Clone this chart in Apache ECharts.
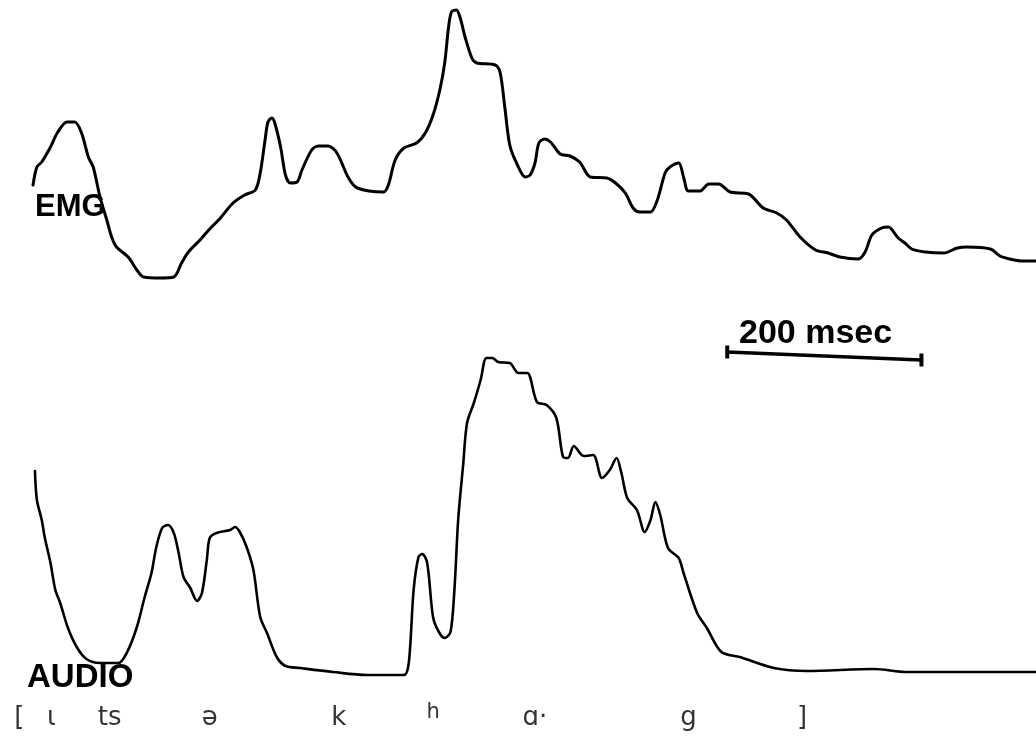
<!DOCTYPE html>
<html>
<head>
<meta charset="utf-8">
<style>
  html, body { margin: 0; padding: 0; background: #ffffff; }
  #chart { width: 1036px; height: 736px; }
</style>
<script src="https://cdn.jsdelivr.net/npm/echarts@6/dist/echarts.min.js"></script>
</head>
<body>
<div id="chart"></div>
<script>
// Time axis in milliseconds; amplitudes in arbitrary units.
// EMG envelope: [time ms, amplitude]
const emgTrace = [
  [3,105],[7,123],[12,128],[21,143],[28,157],[38,168],[46,168],[53,157],[60,133],[65,123],
  [72,93],[79,70],[84,53],[89,43],[101,33],[110,20],[117,13],[134,12],[148,13],[156,27],
  [163,38],[175,50],[184,60],[196,72],[209,87],[221,95],[232,100],[237,117],[242,150],[245,168],
  [249,172],[252,167],[258,143],[263,115],[268,107],[275,108],[280,120],[290,140],[297,144],[307,144],
  [316,137],[328,112],[337,102],[364,98],[369,105],[376,130],[385,142],[398,147],[407,157],[415,175],
  [422,200],[427,227],[431,263],[434,278],[439,280],[443,272],[448,253],[455,232],[460,227],[479,225],
  [484,218],[489,182],[494,145],[501,127],[510,113],[515,115],[520,127],[524,147],[530,151],[536,148],
  [546,136],[556,134],[566,128],[577,113],[594,112],[603,107],[613,97],[621,82],[628,78],[639,78],
  [646,90],[654,117],[659,123],[668,127],[673,113],[678,99],[690,99],[699,106],[709,106],[721,98],
  [740,96],[755,82],[769,77],[779,70],[793,53],[809,40],[822,37],[834,33],[853,31],[860,38],
  [867,55],[877,62],[884,63],[894,52],[901,47],[908,41],[922,38],[941,37],[955,42],[965,43],
  [989,41],[999,34],[1009,31],[1021,29],[1036,29]
];

// Acoustic amplitude envelope: [time ms, amplitude]
const audioTrace = [
  [5,209],[7,180],[12,160],[15,143],[21,117],[26,90],[31,77],[39,52],[48,33],[58,21],
  [72,17],[91,17],[100,28],[110,53],[118,83],[125,107],[130,133],[136,152],[142,155],[148,147],
  [153,127],[158,103],[165,92],[172,79],[177,87],[182,120],[185,142],[192,147],[206,150],[211,153],
  [216,148],[223,133],[230,110],[237,63],[244,47],[254,23],[263,14],[278,12],[312,8],[347,5],
  [385,5],[390,17],[395,90],[400,123],[404,126],[409,117],[415,63],[421,48],[427,42],[433,48],
  [437,90],[441,162],[446,215],[450,257],[457,277],[464,300],[470,322],[476,322],[482,318],[494,317],
  [503,307],[512,307],[522,278],[532,275],[542,262],[549,223],[554,222],[560,234],[570,224],[580,225],
  [589,202],[597,210],[604,222],[609,207],[615,182],[625,170],[633,148],[639,160],[644,178],[649,165],
  [657,132],[668,122],[673,107],[687,67],[697,52],[712,28],[731,23],[766,12],[800,9],[869,11],
  [903,8],[961,8],[1036,8]
];

// Phonetic transcription aligned to the time axis
const phoneLabels = ['[', 'ɩ', 'ts', 'ə', 'k', 'h', 'ɑ·', 'g', ']'];
const phoneTimes  = [-11, 22, 82, 185, 318, 415, 520, 678, 795];

// Time calibration bar
const scaleBarStart = 718;   // ms
const scaleBarLength = 200;  // ms
const scaleBarText = '200 msec';

const traceLabels = ['EMG', 'AUDIO'];

const chart = echarts.init(document.getElementById('chart'), null, { renderer: 'canvas' });

const hiddenAxis = {
  show: false,
  splitLine: { show: false },
  axisLine: { show: false },
  axisTick: { show: false },
  axisLabel: { show: false }
};

const timeAxis = Object.assign({ type: 'value', min: -31, max: 1036 }, hiddenAxis);

// the aspiration mark is set smaller and raised
const phoneData = phoneLabels.map((p, i) => ({
  value: [phoneTimes[i], p === 'h' ? -33 : -38],
  name: p,
  label: p === 'h' ? { fontSize: 21 } : {}
}));

const option = {
  backgroundColor: '#ffffff',
  animation: false,
  grid: [
    { left: 0, right: 0, top: 0, height: 290 },
    { left: 0, right: 0, top: 340, bottom: 0 }
  ],
  xAxis: [
    Object.assign({ gridIndex: 0 }, timeAxis),
    Object.assign({ gridIndex: 1 }, timeAxis)
  ],
  yAxis: [
    Object.assign({ type: 'value', gridIndex: 0, min: 0, max: 290 }, hiddenAxis),
    Object.assign({ type: 'value', gridIndex: 1, min: -56, max: 340 }, hiddenAxis)
  ],
  series: [
    {
      name: 'EMG',
      type: 'line',
      xAxisIndex: 0, yAxisIndex: 0,
      data: emgTrace,
      showSymbol: false,
      smooth: 0.3,
      lineStyle: { color: '#000000', width: 3, cap: 'round', join: 'round' }
    },
    {
      name: 'AUDIO',
      type: 'line',
      xAxisIndex: 1, yAxisIndex: 1,
      data: audioTrace,
      showSymbol: false,
      smooth: 0.3,
      lineStyle: { color: '#000000', width: 2.6, cap: 'round', join: 'round' }
    },
    {
      name: 'scale',
      type: 'line',
      xAxisIndex: 1, yAxisIndex: 1,
      data: [[scaleBarStart, 328], [scaleBarStart + scaleBarLength, 320]],
      symbol: 'rect',
      symbolSize: [4, 13],
      showSymbol: true,
      itemStyle: { color: '#000000' },
      lineStyle: { color: '#000000', width: 3.5 },
      silent: true
    },
    {
      name: 'phones',
      type: 'scatter',
      xAxisIndex: 1, yAxisIndex: 1,
      data: phoneData,
      symbolSize: 0,
      silent: true,
      label: {
        show: true,
        position: 'inside',
        formatter: (p) => p.name,
        color: '#000000',
        fontFamily: 'DejaVu Sans',
        fontWeight: 'normal',
        fontSize: 26
      }
    }
  ],
  graphic: [
    {
      type: 'text', left: 35, top: 192,
      style: { text: traceLabels[0], font: 'bold 31px "Liberation Sans", Arial, sans-serif', fill: '#000' }
    },
    {
      type: 'text', left: 27, top: 661,
      style: { text: traceLabels[1], font: 'bold 33px "Liberation Sans", Arial, sans-serif', fill: '#000' }
    },
    {
      type: 'text', left: 739, top: 317,
      style: { text: scaleBarText, font: 'bold 34px "Liberation Sans", Arial, sans-serif', fill: '#000' }
    }
  ]
};

chart.setOption(option);
</script>
</body>
</html>
